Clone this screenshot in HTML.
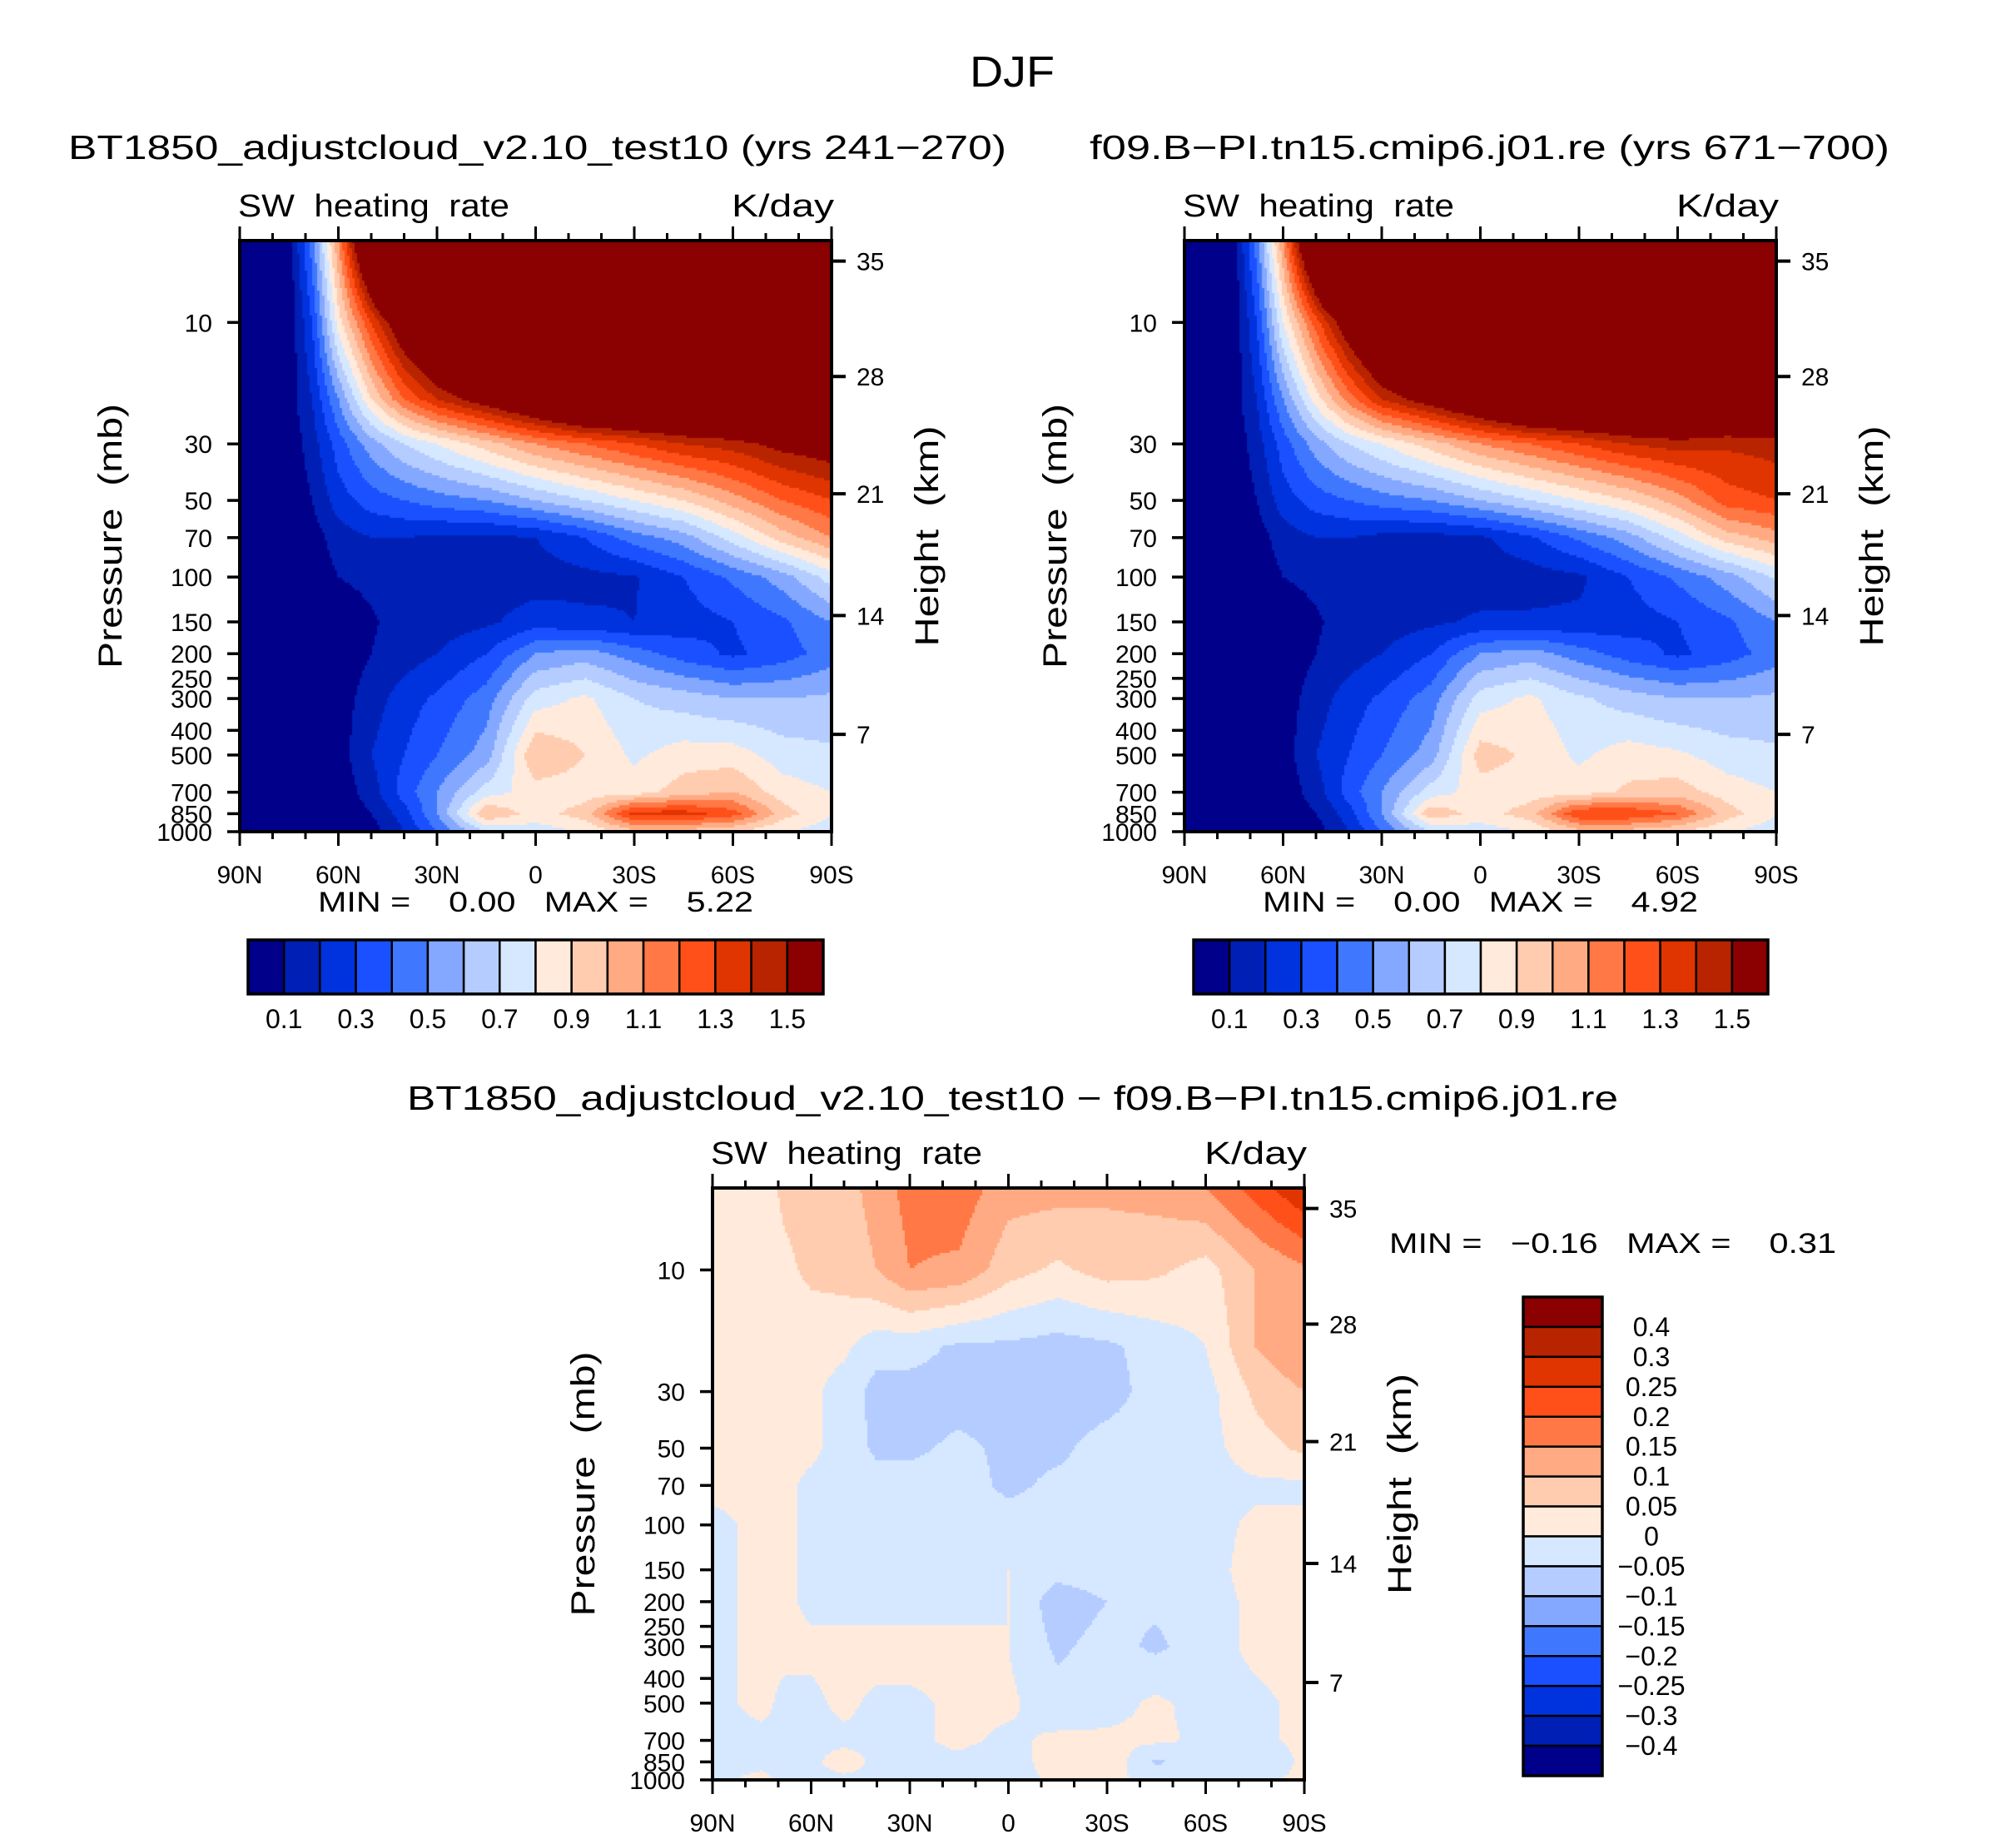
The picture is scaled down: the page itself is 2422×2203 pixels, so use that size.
<!DOCTYPE html>
<html><head><meta charset="utf-8"><title>DJF SW heating rate</title>
<style>
html,body{margin:0;padding:0;background:#fff;}
#root{position:relative;width:2422px;height:2203px;overflow:hidden;background:#fff;}
canvas{position:absolute;}
svg{position:absolute;left:0;top:0;}
text{font-family:"Liberation Sans",sans-serif;fill:#000;white-space:pre;}
</style></head>
<body>
<div id="root">
<canvas id="cvA"></canvas>
<canvas id="cvB"></canvas>
<canvas id="cvD"></canvas>
<svg id="ov" width="2422" height="2203"></svg>
</div>
<script>
// ---- data ----
const lats = [90,75,68,60,50,40,30,15,0,-15,-30,-45,-60,-75,-90];
const levs = [4.77,10,20,30,50,70,100,150,200,300,500,700,850,1000];
const fieldA = [
 [0,0.05,0.45,1.1,2,3,3,3,3,3,3,3,3,3,3],
 [0,0.02,0.3,0.85,1.3,1.7,2,2.5,3,3,3,3,3,3,3],
 [0,0.05,0.2,0.5,0.9,1.2,1.4,1.6,1.8,2,2,2,2,2,2],
 [0,0.03,0.15,0.35,0.55,0.7,0.8,0.95,1.1,1.2,1.3,1.4,1.45,1.55,1.6],
 [0,0.02,0.1,0.25,0.35,0.4,0.45,0.5,0.6,0.7,0.8,0.9,1.05,1.2,1.3],
 [0,0.01,0.05,0.15,0.2,0.2,0.18,0.17,0.2,0.3,0.45,0.55,0.75,0.95,1.1],
 [0,0,0.03,0.1,0.12,0.13,0.14,0.15,0.15,0.17,0.19,0.3,0.42,0.55,0.75],
 [0,0,0,0.05,0.09,0.13,0.15,0.18,0.25,0.22,0.2,0.25,0.3,0.38,0.5],
 [0,0,0,0.03,0.1,0.15,0.2,0.3,0.5,0.55,0.45,0.35,0.28,0.35,0.45],
 [0,0,0,0.05,0.15,0.25,0.32,0.45,0.75,0.82,0.7,0.65,0.6,0.6,0.62],
 [0,0,0,0.05,0.2,0.3,0.4,0.55,1.0,0.9,0.78,0.85,0.85,0.75,0.72],
 [0,0,0,0.03,0.15,0.35,0.5,0.75,0.85,0.85,0.85,0.95,1.0,0.85,0.8],
 [0,0,0,0.02,0.1,0.25,0.5,1.0,0.85,0.95,1.35,1.35,1.25,0.95,0.8],
 [0,0,0,0,0.05,0.2,0.4,0.7,0.75,0.8,0.95,0.95,0.9,0.8,0.75]
];
const fieldB = [
 [0,0.05,0.45,1.1,2,3,3,3,3,3,3,3,3,3,3],
 [0,0.02,0.3,0.8,1.25,1.65,2,2.5,3,3,3,3,3,3,3],
 [0,0.05,0.2,0.5,0.85,1.15,1.4,1.6,1.8,2,2,2,2,1.9,1.9],
 [0,0.03,0.15,0.35,0.55,0.7,0.8,0.95,1.1,1.2,1.3,1.4,1.45,1.42,1.45],
 [0,0.02,0.1,0.25,0.35,0.4,0.45,0.5,0.6,0.7,0.8,0.9,1.05,1.25,1.3],
 [0,0.01,0.05,0.15,0.2,0.2,0.17,0.16,0.18,0.28,0.42,0.55,0.75,0.95,1.05],
 [0,0,0.03,0.1,0.12,0.13,0.13,0.14,0.14,0.15,0.18,0.3,0.42,0.55,0.72],
 [0,0,0,0.05,0.09,0.13,0.15,0.18,0.22,0.22,0.22,0.25,0.3,0.38,0.5],
 [0,0,0,0.03,0.1,0.15,0.2,0.3,0.5,0.55,0.45,0.35,0.28,0.35,0.45],
 [0,0,0,0.05,0.15,0.25,0.32,0.45,0.75,0.82,0.72,0.65,0.6,0.6,0.62],
 [0,0,0,0.05,0.2,0.3,0.4,0.55,0.95,0.88,0.78,0.85,0.82,0.75,0.72],
 [0,0,0,0.03,0.15,0.35,0.5,0.75,0.85,0.85,0.85,0.92,0.95,0.85,0.8],
 [0,0,0,0.02,0.1,0.25,0.5,0.98,0.85,0.95,1.3,1.3,1.2,0.95,0.8],
 [0,0,0,0,0.05,0.2,0.4,0.7,0.75,0.8,0.95,0.95,0.9,0.8,0.75]
];
const fieldD = [
 [0.03,0.03,0.06,0.07,0.08,0.12,0.17,0.18,0.12,0.12,0.11,0.12,0.15,0.22,0.3],
 [0.03,0.03,0.04,0.06,0.07,0.1,0.15,0.14,0.07,0.04,0.07,0.06,0.03,0.1,0.14],
 [0.02,0.02,0.02,0.02,0.01,-0.03,-0.03,-0.06,-0.06,-0.07,-0.06,-0.03,0.0,0.1,0.15],
 [0.02,0.02,0.02,0.01,-0.02,-0.07,-0.07,-0.07,-0.07,-0.08,-0.07,-0.03,-0.02,0.06,0.1],
 [0.01,0.01,0.01,0.01,-0.02,-0.06,-0.06,-0.04,-0.06,-0.06,-0.03,-0.03,-0.02,0.03,0.06],
 [0.01,0.01,0.01,-0.01,-0.02,-0.03,-0.03,-0.03,-0.06,-0.04,-0.03,-0.03,-0.02,-0.01,-0.01],
 [-0.01,0.01,0.01,-0.01,-0.02,-0.03,-0.03,-0.03,-0.03,-0.03,-0.03,-0.03,-0.02,0.01,0.01],
 [-0.01,0.01,0.01,-0.01,-0.02,-0.02,-0.02,-0.02,0.0,-0.03,-0.02,-0.02,-0.02,0.02,0.04],
 [-0.01,0.01,0.01,-0.01,-0.02,-0.02,-0.02,-0.02,0.0,-0.08,-0.05,-0.04,-0.02,0.01,0.02],
 [-0.01,0.01,0.01,0.01,0.02,0.02,0.02,0.02,0.0,-0.06,-0.03,-0.06,-0.02,0.01,0.02],
 [-0.01,0.01,-0.01,-0.01,0.01,-0.01,-0.01,0.01,0.01,-0.03,-0.02,0.01,-0.02,-0.01,0.01],
 [-0.01,-0.01,-0.01,-0.01,-0.01,-0.01,-0.01,0.01,-0.01,0.01,0.01,0.01,-0.01,-0.01,0.01],
 [-0.01,-0.01,-0.01,-0.01,0.02,-0.01,-0.01,-0.01,-0.03,0.03,0.04,-0.06,-0.01,-0.04,0.01],
 [-0.01,0.01,-0.01,-0.01,-0.01,-0.01,-0.01,-0.01,-0.02,0.01,0.01,-0.01,-0.01,-0.01,0.01]
];
const levelsAB = [0.1,0.2,0.3,0.4,0.5,0.6,0.7,0.8,0.9,1.0,1.1,1.2,1.3,1.4,1.5];
const labelsAB = ["0.1","0.3","0.5","0.7","0.9","1.1","1.3","1.5"];
const levelsD = [-0.4,-0.3,-0.25,-0.2,-0.15,-0.1,-0.05,0,0.05,0.1,0.15,0.2,0.25,0.3,0.4];
const labelsD = ["\u22120.4","\u22120.3","\u22120.25","\u22120.2","\u22120.15","\u22120.1","\u22120.05","0","0.05","0.1","0.15","0.2","0.25","0.3","0.4"];
const pTicks = [10,30,50,70,100,150,200,250,300,400,500,700,850,1000];
const hTicks = [35,28,21,14,7];
const hTickP = [5.74,16.3,47.1,141.6,415];
const latTicks = [90,60,30,0,-30,-60,-90];
const latLabels = ["90N","60N","30N","0","30S","60S","90S"];
const colors = ["#00008a","#001fb4","#0033dd","#1a50ff","#3f78ff","#84a8ff","#b4ccff","#d6e8ff",
 "#ffeadb","#ffccb0","#ffaa82","#ff7845","#ff501a","#e03500","#b82300","#8b0000"];

const LOGTOP = Math.log10(4.77), LOGBOT = 3;
const boxA = {x:288,y:289,w:711,h:710};
const boxB = {x:1423,y:289,w:711,h:710};
const boxD = {x:856,y:1427,w:711,h:711};

function xOf(b,lat){return b.x + b.w*(90-lat)/180;}
function yOf(b,p){return b.y + b.h*(Math.log10(p)-LOGTOP)/(LOGBOT-LOGTOP);}

function interp(field, lat, lp){
  let i=0; while(i<lats.length-2 && lat<lats[i+1]) i++;
  let tx=(lats[i]-lat)/(lats[i]-lats[i+1]); tx=Math.max(0,Math.min(1,tx));
  const ll=levs.map(v=>Math.log10(v));
  let j=0; while(j<ll.length-2 && lp>ll[j+1]) j++;
  let ty=(lp-ll[j])/(ll[j+1]-ll[j]); ty=Math.max(0,Math.min(1,ty));
  const a=field[j][i],b=field[j][i+1],c=field[j+1][i],d=field[j+1][i+1];
  return (a*(1-tx)+b*tx)*(1-ty)+(c*(1-tx)+d*tx)*ty;
}
function colorIdx(v,levels){let k=0;while(k<levels.length && v>=levels[k]) k++;return k;}

function fill(id,b,field,levels){
  const cv=document.getElementById(id);
  cv.width=b.w;cv.height=b.h;cv.style.left=b.x+'px';cv.style.top=b.y+'px';
  const ctx=cv.getContext('2d');const s=3;
  for(let px=0;px<b.w;px+=s){
    const lat=90-180*(px+s/2)/b.w;
    for(let py=0;py<b.h;py+=s){
      const lp=LOGTOP+(LOGBOT-LOGTOP)*(py+s/2)/b.h;
      ctx.fillStyle=colors[colorIdx(interp(field,lat,lp),levels)];
      ctx.fillRect(px,py,s,s);
    }
  }
}
fill('cvA',boxA,fieldA,levelsAB);
fill('cvB',boxB,fieldB,levelsAB);
fill('cvD',boxD,fieldD,levelsD);

const NS='http://www.w3.org/2000/svg';
const ov=document.getElementById('ov');
function el(tag,attrs,parent){const e=document.createElementNS(NS,tag);for(const k in attrs)e.setAttribute(k,attrs[k]);(parent||ov).appendChild(e);return e;}
function txt(s,attrs,parent){const e=el('text',attrs,parent);e.textContent=s;return e;}
function line(x1,y1,x2,y2,w,parent){return el('line',{x1,y1,x2,y2,stroke:'#000','stroke-width':w},parent);}

function axes(b,name){
  const g=el('g',{});
  
  
  el('rect',{x:b.x,y:b.y,width:b.w,height:b.h,fill:'none',stroke:'#000','stroke-width':4},g);
  for(let lat=90;lat>=-90;lat-=10){
    const x=xOf(b,lat);const major=(lat%30===0);const L=major?17:9;
    line(x,b.y,x,b.y-L,3,g);line(x,b.y+b.h,x,b.y+b.h+L,3,g);
  }
  latTicks.forEach((lat,i)=>{
    const t=txt(latLabels[i],{x:xOf(b,lat),y:b.y+b.h+62,'font-size':30,'text-anchor':'middle'},g);
    
    
  });
  pTicks.forEach(p=>{
    const y=yOf(b,p);line(b.x,y,b.x-15,y,3.5,g);
    const t=txt(String(p),{x:b.x-33,y:y+11,'font-size':30,'text-anchor':'end'},g);
    
    
  });
  hTicks.forEach((h,i)=>{
    const y=yOf(b,hTickP[i]);line(b.x+b.w,y,b.x+b.w+17,y,4,g);
    const t=txt(String(h),{x:b.x+b.w+30,y:y+11,'font-size':30},g);
    
    
  });
  const cy=b.y+b.h/2;
  const yt=txt('Pressure  (mb)',{x:0,y:0,'font-size':40,'text-anchor':'middle',transform:`translate(${b.x-142},${cy}) rotate(-90)`,textLength:318,lengthAdjust:'spacingAndGlyphs'},g);
  
  
  const ht=txt('Height  (km)',{x:0,y:0,'font-size':40,'text-anchor':'middle',transform:`translate(${b.x+b.w+128},${cy}) rotate(-90)`,textLength:265,lengthAdjust:'spacingAndGlyphs'},g);
  
  
  const sw=txt('SW  heating  rate',{x:b.x-2,y:b.y-29,'font-size':38,textLength:326,lengthAdjust:'spacingAndGlyphs'},g);
  
  
  const un=txt('K/day',{x:b.x+b.w+3,y:b.y-29,'font-size':38,'text-anchor':'end',textLength:123,lengthAdjust:'spacingAndGlyphs'},g);
  
  
}
axes(boxA,'test10');axes(boxB,'control');axes(boxD,'difference');

function hbar(x0,x1,y0,y1,name){
  const g=el('g',{});
  
  
  const n=colors.length,w=(x1-x0)/n;
  colors.forEach((c,i)=>{el('rect',{x:x0+i*w,y:y0,width:w,height:y1-y0,fill:c,stroke:'#000','stroke-width':2.5},g);});
  el('rect',{x:x0,y:y0,width:x1-x0,height:y1-y0,fill:'none',stroke:'#000','stroke-width':3.5},g);
  labelsAB.forEach((s,k)=>{
    const t=txt(s,{x:x0+w*(1+2*k),y:y1+41,'font-size':32,'text-anchor':'middle'},g);
    
    
  });
}
hbar(298,989,1129,1194,'colorbar-test10');
hbar(1434,2124,1129,1194,'colorbar-control');

(function(){
  const x0=1830,x1=1925,y0=1558,y1=2133;
  const g=el('g',{});
  
  
  const n=colors.length,h=(y1-y0)/n;
  colors.forEach((c,i)=>{el('rect',{x:x0,y:y0+i*h,width:x1-x0,height:h,fill:colors[n-1-i],stroke:'#000','stroke-width':2.5},g);});
  el('rect',{x:x0,y:y0,width:x1-x0,height:y1-y0,fill:'none',stroke:'#000','stroke-width':3.5},g);
  levelsD.forEach((v,k)=>{
    const yy=y1-h*(k+1);
    const t=txt(labelsD[k],{x:1984,y:yy+11,'font-size':32,'text-anchor':'middle'},g);
    
    
  });
})();

function label(s,attrs,name){const t=txt(s,attrs);return t;}
label('DJF',{x:1216,y:104,'font-size':52,'text-anchor':'middle',textLength:102,lengthAdjust:'spacingAndGlyphs'},'figure-title');
label('BT1850_adjustcloud_v2.10_test10 (yrs 241\u2212270)',{x:82,y:191,'font-size':41,textLength:1127,lengthAdjust:'spacingAndGlyphs'},'test10-title');
label('f09.B\u2212PI.tn15.cmip6.j01.re (yrs 671\u2212700)',{x:1309,y:191,'font-size':41,textLength:961,lengthAdjust:'spacingAndGlyphs'},'control-title');
label('BT1850_adjustcloud_v2.10_test10 \u2212 f09.B\u2212PI.tn15.cmip6.j01.re',{x:489,y:1333,'font-size':41,textLength:1455,lengthAdjust:'spacingAndGlyphs'},'difference-title');
label('MIN =    0.00   MAX =    5.22',{x:382,y:1095,'font-size':34,textLength:523,lengthAdjust:'spacingAndGlyphs'},'min-max-test10');
label('MIN =    0.00   MAX =    4.92',{x:1517,y:1095,'font-size':34,textLength:523,lengthAdjust:'spacingAndGlyphs'},'min-max-control');
label('MIN =   \u22120.16   MAX =    0.31',{x:1669,y:1505,'font-size':34,textLength:537,lengthAdjust:'spacingAndGlyphs'},'min-max-difference');
</script>
</body></html>
